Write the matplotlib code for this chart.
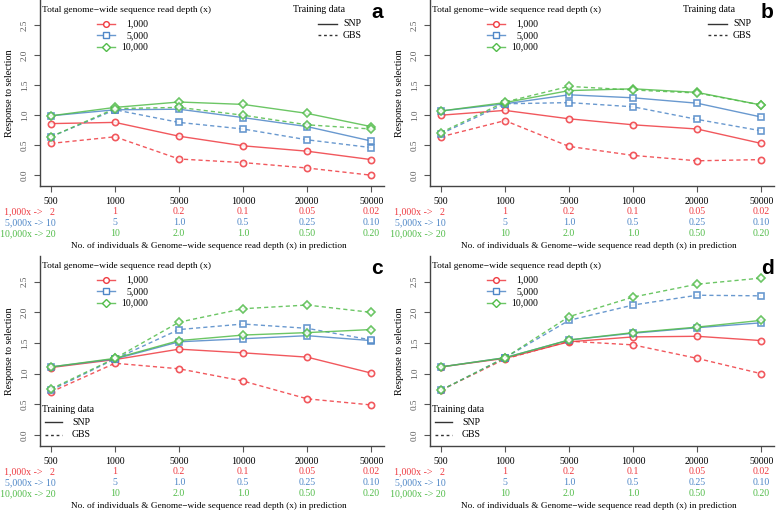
import numpy as np
import matplotlib
matplotlib.use("Agg")
import matplotlib.pyplot as plt
import matplotlib.transforms as mtransforms

plt.rcParams['font.family'] = ['Liberation Serif', 'DejaVu Serif']

# ---- data ----
ticks = ['500', '1000', '5000', '10000', '20000', '50000']
row_red = ['1,000x ->   2', '1', '0.2', '0.1', '0.05', '0.02']
row_blue = ['5,000x -> 10', '5', '1.0', '0.5', '0.25', '0.10']
row_green = ['10,000x -> 20', '10', '2.0', '1.0', '0.50', '0.20']
depths = ['1,000', '5,000', '10,000']

# panel a
a_red_snp = [0.86, 0.88, 0.65, 0.49, 0.40, 0.26]
a_red_gbs = [0.53, 0.64, 0.27, 0.21, 0.12, 0.00]
a_blue_snp = [0.99, 1.09, 1.10, 0.96, 0.81, 0.57]
a_blue_gbs = [0.64, 1.09, 0.88, 0.77, 0.59, 0.46]
a_green_snp = [0.99, 1.13, 1.22, 1.18, 1.03, 0.81]
a_green_gbs = [0.64, 1.11, 1.13, 1.00, 0.84, 0.77]
# panel b
b_red_snp = [1.00, 1.08, 0.94, 0.84, 0.77, 0.53]
b_red_gbs = [0.64, 0.91, 0.48, 0.33, 0.24, 0.26]
b_blue_snp = [1.07, 1.19, 1.34, 1.29, 1.20, 0.97]
b_blue_gbs = [0.69, 1.19, 1.21, 1.14, 0.93, 0.74]
b_green_snp = [1.07, 1.21, 1.41, 1.44, 1.38, 1.17]
b_green_gbs = [0.71, 1.22, 1.48, 1.42, 1.37, 1.17]
# panel c
c_red_snp = [1.10, 1.23, 1.40, 1.34, 1.27, 1.01]
c_red_gbs = [0.70, 1.17, 1.08, 0.88, 0.59, 0.49]
c_blue_snp = [1.11, 1.24, 1.52, 1.57, 1.62, 1.54]
c_blue_gbs = [0.73, 1.24, 1.72, 1.81, 1.74, 1.55]
c_green_snp = [1.11, 1.25, 1.54, 1.63, 1.67, 1.72]
c_green_gbs = [0.75, 1.25, 1.84, 2.06, 2.12, 2.00]
# panel d
d_red_snp = [1.11, 1.25, 1.52, 1.60, 1.61, 1.54]
d_red_gbs = [0.73, 1.24, 1.53, 1.47, 1.25, 1.00]
d_blue_snp = [1.11, 1.26, 1.55, 1.66, 1.75, 1.83]
d_blue_gbs = [0.73, 1.26, 1.87, 2.12, 2.28, 2.27]
d_green_snp = [1.11, 1.26, 1.55, 1.67, 1.76, 1.87]
d_green_gbs = [0.73, 1.26, 1.93, 2.25, 2.46, 2.56]

RED = '#ef3b41'
BLUE = '#4f87c7'
GREEN = '#52bc4a'
COLS = [RED, BLUE, GREEN]
MARKS = ['o', 's', 'D']
MSIZE = [4.5, 4.1, 4.2]
GBS_DASH = (3, 2.2)
FS = 7.1

W, H = 778, 513
fig = plt.figure(figsize=(W / 100, H / 100), dpi=100)


def panel(left, top, height, letter, snp, gbs, train_top):
    width = 344
    ax = fig.add_axes([left / W, (H - top - height) / H, width / W, height / H])
    x = np.arange(len(ticks))
    for i in range(3):
        ax.plot(x, snp[i], color=COLS[i], lw=1.0, alpha=0.85, marker=MARKS[i],
                ms=MSIZE[i], mfc='white', mec=COLS[i], mew=1.2)
        ax.plot(x, gbs[i], color=COLS[i], lw=1.0, alpha=0.85, dashes=GBS_DASH,
                marker=MARKS[i], ms=MSIZE[i], mfc='white', mec=COLS[i], mew=1.2)
    ax.set_xlim(-0.17, 5.2)
    ax.set_ylim(-0.18, 2.92)
    for s in ['top', 'right']:
        ax.spines[s].set_visible(False)
    for s in ['left', 'bottom']:
        ax.spines[s].set_color('#444444')
        ax.spines[s].set_linewidth(1.0)
    ax.set_yticks([0, 0.5, 1.0, 1.5, 2.0, 2.5])
    ax.set_yticklabels(['0.0', '0.5', '1.0', '1.5', '2.0', '2.5'], rotation=90,
                       va='center', fontsize=6.6, color='#555555')
    ax.set_xticks(x)
    ax.set_xticklabels([])
    ax.tick_params(axis='both', length=4, width=0.8, color='#555555')
    ax.tick_params(axis='y', pad=4)
    ax.set_ylabel('Response to selection', fontsize=7.3, labelpad=5)

    # rows of labels under the axis
    rows = [(ticks, 'black', 15.5), (row_red, RED, 25.5),
            (row_blue, BLUE, 36.5), (row_green, GREEN, 47.5)]
    for labels, col, dy in rows:
        tr = mtransforms.offset_copy(ax.get_xaxis_transform(), fig=fig,
                                     y=-dy, units='dots')
        for j, lab in enumerate(labels):
            if j == 0 and col != 'black':
                ax.text(j + 0.07, 0, lab, transform=tr, ha='right', va='center',
                        fontsize=FS, color=col, clip_on=False)
            else:
                ax.text(j, 0, lab, transform=tr, ha='center', va='center',
                        fontsize=FS, color=col, clip_on=False)
    tr = mtransforms.offset_copy(ax.transAxes, fig=fig, y=-60, units='dots')
    ax.text(0.49, 0, 'No. of individuals & Genome\u2212wide sequence read depth (x) in prediction',
            transform=tr, ha='center', va='center', fontsize=6.7, clip_on=False)

    # depth legend
    def fy(px):
        return 1 - px / height
    ax.text(0.005, fy(10), 'Total genome\u2212wide sequence read depth (x)',
            transform=ax.transAxes, ha='left', va='center', fontsize=6.8)
    for i in range(3):
        yy = fy(24 + 11.3 * i)
        ax.plot([0.166, 0.218], [yy, yy], transform=ax.transAxes, color=COLS[i],
                lw=1.0, alpha=0.85, clip_on=False)
        ax.plot([0.192], [yy], transform=ax.transAxes, marker=MARKS[i],
                ms=MSIZE[i] - 0.4, mfc='white', mec=COLS[i], mew=1.0, clip_on=False)
        ax.text(0.314, yy, depths[i], transform=ax.transAxes, ha='right',
                va='center', fontsize=7.0)

    # training data legend
    if train_top:
        tx, ty = 0.735, [fy(10), fy(24), fy(35)]
        lx = [0.808, 0.863]
        txt = 0.881
    else:
        tx, ty = 0.005, [0.194, 0.126, 0.058]
        lx = [0.015, 0.064]
        txt = 0.093
    ax.text(tx, ty[0], 'Training data', transform=ax.transAxes, ha='left',
            va='center', fontsize=7.0)
    ax.plot(lx, [ty[1], ty[1]], transform=ax.transAxes, color='#333333', lw=1.0)
    ax.plot(lx, [ty[2], ty[2]], transform=ax.transAxes, color='#333333', lw=1.0,
            dashes=(2, 2))
    ax.text(txt, ty[1], 'SNP', transform=ax.transAxes, ha='left', va='center', fontsize=7.0)
    ax.text(txt, ty[2], 'GBS', transform=ax.transAxes, ha='left', va='center', fontsize=7.0)

    ax.text(0.98, fy(13), letter, transform=ax.transAxes, ha='center', va='center',
            fontsize=15, fontweight='bold', family='Liberation Sans')
    return ax


panel(40, 0, 186, 'a',
      [a_red_snp, a_blue_snp, a_green_snp], [a_red_gbs, a_blue_gbs, a_green_gbs], True)
panel(430, 0, 186, 'b',
      [b_red_snp, b_blue_snp, b_green_snp], [b_red_gbs, b_blue_gbs, b_green_gbs], True)
panel(40, 256, 190, 'c',
      [c_red_snp, c_blue_snp, c_green_snp], [c_red_gbs, c_blue_gbs, c_green_gbs], False)
panel(430, 256, 190, 'd',
      [d_red_snp, d_blue_snp, d_green_snp], [d_red_gbs, d_blue_gbs, d_green_gbs], False)

fig.savefig('out.png', dpi=100)
